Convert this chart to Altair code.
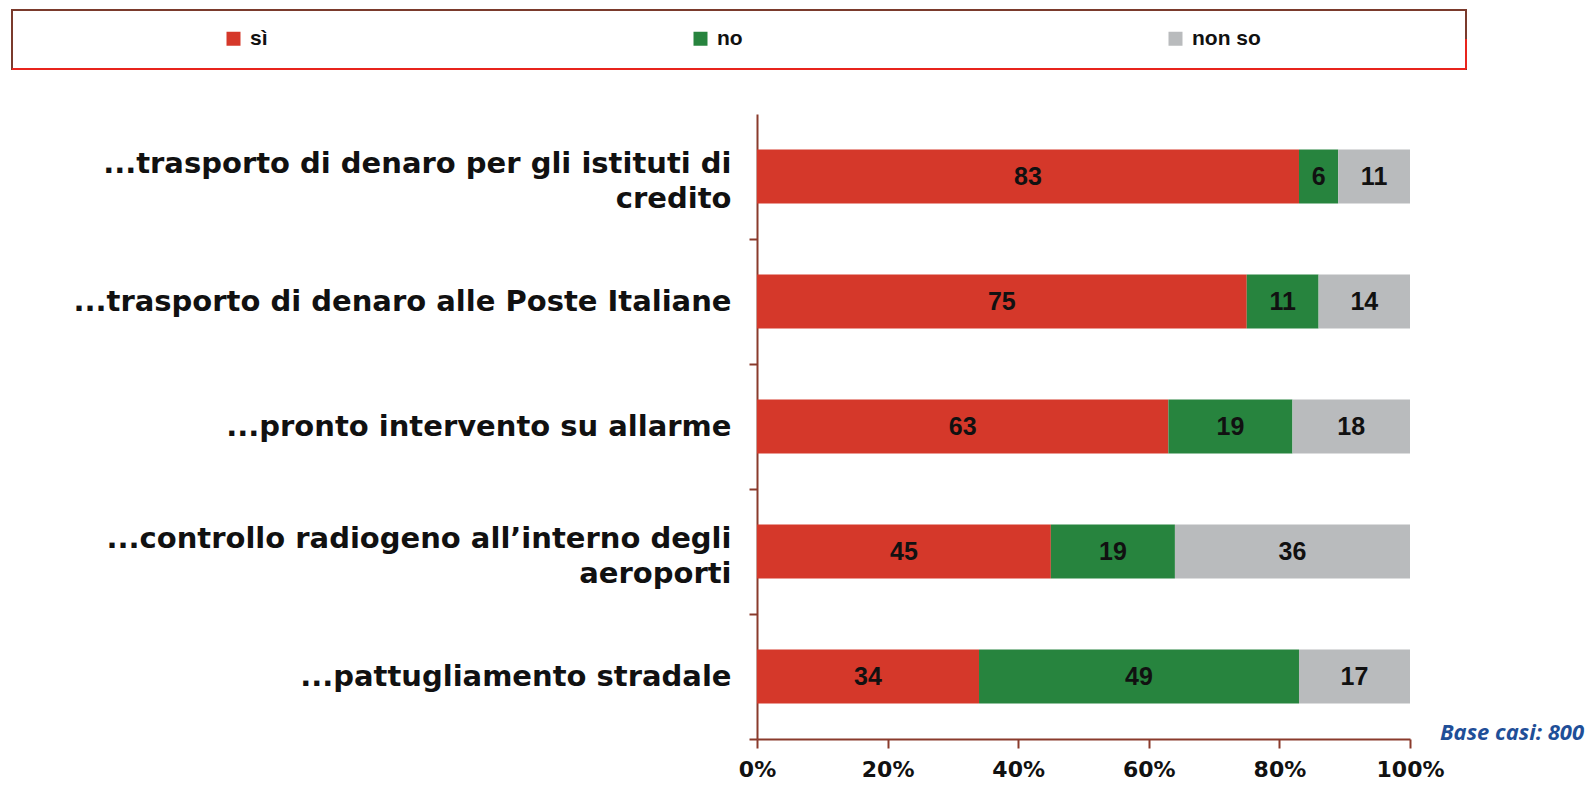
import altair as alt
import pandas as pd

categories = [
    "...trasporto di denaro per gli istituti di|credito",
    "...trasporto di denaro alle Poste Italiane",
    "...pronto intervento su allarme\u00a0",
    "...controllo radiogeno all\u2019interno degli|aeroporti\u00a0",
    "...pattugliamento stradale",
]
si = [83, 75, 63, 45, 34]
no = [6, 11, 19, 19, 49]
non_so = [11, 14, 18, 36, 17]
series = ["sì", "no", "non so"]
colors = ["#d5382a", "#27843e", "#b9bbbd"]
x_ticks = [0, 20, 40, 60, 80, 100]

rows = []
for i, c in enumerate(categories):
    for k, (s, vals) in enumerate(zip(series, [si, no, non_so])):
        rows.append({"cat": c, "serie": s, "ord": k, "val": vals[i]})
df = pd.DataFrame(rows)

W, H = 653, 625
FONT = "DejaVu Sans"
AXC = "#8a3b2c"
PI = 0.57
HALF_GAP = PI * (H / 5) / 2

y_enc = alt.Y(
    "cat:N",
    sort=categories,
    scale=alt.Scale(paddingInner=PI, paddingOuter=PI / 2),
    axis=alt.Axis(
        title=None,
        labelExpr="split(datum.label, '|')",
        labelFont=FONT,
        labelFontWeight="bold",
        labelFontSize=29,
        labelLineHeight=35,
        labelColor="#111111",
        labelPadding=18,
        labelLimit=900,
        domainColor=AXC,
        domainWidth=2,
        tickColor=AXC,
        tickWidth=2,
        tickSize=8,
        bandPosition=1,
        tickExtra=False,
        tickOffset=HALF_GAP,
        labelOffset={
            "condition": {"test": "indexof(datum.value, '|') >= 0", "value": -HALF_GAP - 13},
            "value": -HALF_GAP,
        },
    ),
)

base = alt.Chart(df)

bars = base.mark_bar(size=54).encode(
    y=y_enc,
    x=alt.X(
        "val:Q",
        stack="zero",
        scale=alt.Scale(domain=[0, 100], nice=False),
        axis=alt.Axis(
            title=None,
            values=x_ticks,
            labelExpr="datum.value + '%'",
            labelFont=FONT,
            labelFontWeight="bold",
            labelFontSize=22,
            labelColor="#111111",
            labelPadding=11,
            labelFlush=False,
            domainColor=AXC,
            domainWidth=2,
            tickColor=AXC,
            tickWidth=2,
            tickSize=9,
            grid=False,
        ),
    ),
    color=alt.Color(
        "serie:N",
        scale=alt.Scale(domain=series, range=colors),
        legend=alt.Legend(
            title=None,
            orient="none",
            legendX=-534,
            legendY=-86,
            direction="horizontal",
            symbolType="square",
            symbolSize=196,
            symbolStrokeWidth=0,
            symbolOpacity=1,
            labelFont="Liberation Sans",
            labelFontWeight="bold",
            labelFontSize=21,
            labelColor="#111111",
            labelOffset=6,
            columnPadding=422,
        ),
    ),
    order=alt.Order("ord:Q"),
)

labels = (
    base.transform_stack(stack="val", groupby=["cat"], sort=[alt.SortField("ord")], as_=["x0", "x1"])
    .transform_calculate(mid="(datum.x0 + datum.x1) / 2")
    .mark_text(font="Liberation Sans", fontWeight="bold", fontSize=25, color="#111111", baseline="middle")
    .encode(y=alt.Y("cat:N", sort=categories), x=alt.X("mid:Q"), text=alt.Text("val:Q"))
)

box = alt.Chart(pd.DataFrame({"a": [0]})).mark_rect(
    fill="#ffffff", stroke="#7a3a2c", strokeWidth=2
).encode(x=alt.value(-745), x2=alt.value(709), y=alt.value(-104), y2=alt.value(-45))
box_bottom = alt.Chart(pd.DataFrame({"a": [0]})).mark_rule(color="#e8241c", strokeWidth=2).encode(
    x=alt.value(-745), x2=alt.value(709), y=alt.value(-45)
)
box_right = alt.Chart(pd.DataFrame({"a": [0]})).mark_rule(color="#e8241c", strokeWidth=2).encode(
    x=alt.value(709), y=alt.value(-75), y2=alt.value(-45)
)

note = alt.Chart(pd.DataFrame({"t": ["Base casi: 800"]})).mark_text(
    font="Open Sans", fontStyle="italic", fontWeight="bold", fontSize=22, color="#1f4f98",
    align="right", baseline="middle"
).encode(x=alt.value(827), y=alt.value(619), text="t:N")

chart = (
    alt.layer(box, box_bottom, box_right, bars, labels, note)
    .properties(
        width=W,
        height=H,
        autosize=alt.AutoSizeParams(type="none"),
        padding={"left": 749, "top": 106, "right": 175, "bottom": 42},
        background="#ffffff",
    )
    .configure_view(stroke=None)
)

chart.save("out.html", embed_options={"renderer": "svg", "actions": False})
